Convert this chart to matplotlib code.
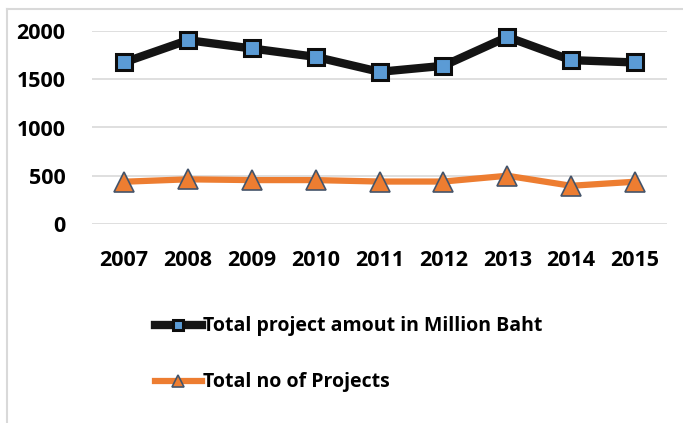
import matplotlib
matplotlib.use("Agg")
import matplotlib.pyplot as plt
from matplotlib.lines import Line2D

years = ["2007", "2008", "2009", "2010", "2011", "2012", "2013", "2014", "2015"]
amount = [1674, 1905, 1819, 1732, 1577, 1639, 1939, 1698, 1674]
projects = [438, 463, 455, 455, 440, 440, 500, 396, 438]
yticks = [0, 500, 1000, 1500, 2000]

plt.rcParams['font.family'] = ['Open Sans', 'DejaVu Sans']

W, H = 683, 423
fig = plt.figure(figsize=(W / 100, H / 100), dpi=100)
# chart frame: only top and left edges are visible in the crop
fig.add_artist(Line2D([6.5 / W, 6.5 / W], [0, 1 - 9.5 / H], transform=fig.transFigure,
                      color='#D9D9D9', linewidth=1.5))
fig.add_artist(Line2D([6.5 / W, 1], [1 - 9.5 / H, 1 - 9.5 / H], transform=fig.transFigure,
                      color='#D9D9D9', linewidth=1.5))

ax = fig.add_axes([92 / W, 1 - 224 / H, 575 / W, 193 / H])
x = list(range(len(years)))
ax.plot(x, amount, color='#141414', linewidth=6, marker='s', markersize=12,
        markerfacecolor='#5B9BD5', markeredgecolor='#0d0d0d', markeredgewidth=2.2,
        label='Total project amout in Million Baht', clip_on=False, zorder=3)
ax.plot(x, projects, color='#ED7D31', linewidth=4.5, marker='^', markersize=14,
        markerfacecolor='#ED7D31', markeredgecolor='#44546A', markeredgewidth=1.2,
        label='Total no of Projects', clip_on=False, zorder=3)

ax.set_xlim(-0.5, len(years) - 0.5)
ax.set_ylim(0, 2000)
ax.set_yticks(yticks)
ax.set_yticklabels([str(v) for v in yticks], fontsize=15.5, fontweight='bold')
ax.set_xticks(x)
ax.set_xticklabels(years, fontsize=15.5, fontweight='bold')
ax.tick_params(axis='both', length=0)
ax.tick_params(axis='x', pad=19)
ax.tick_params(axis='y', pad=19)
ax.grid(axis='y', color='#D9D9D9', linewidth=1.2)
ax.set_axisbelow(True)
for s in ax.spines.values():
    s.set_visible(False)

fig.legend(loc='upper left', bbox_to_anchor=(137 / W, 1 - 299 / H), frameon=False,
           handlelength=2.45, handletextpad=0.05, labelspacing=1.85,
           markerscale=0.6, prop={'weight': 'bold', 'size': 14})

fig.savefig('out.png', dpi=100)
